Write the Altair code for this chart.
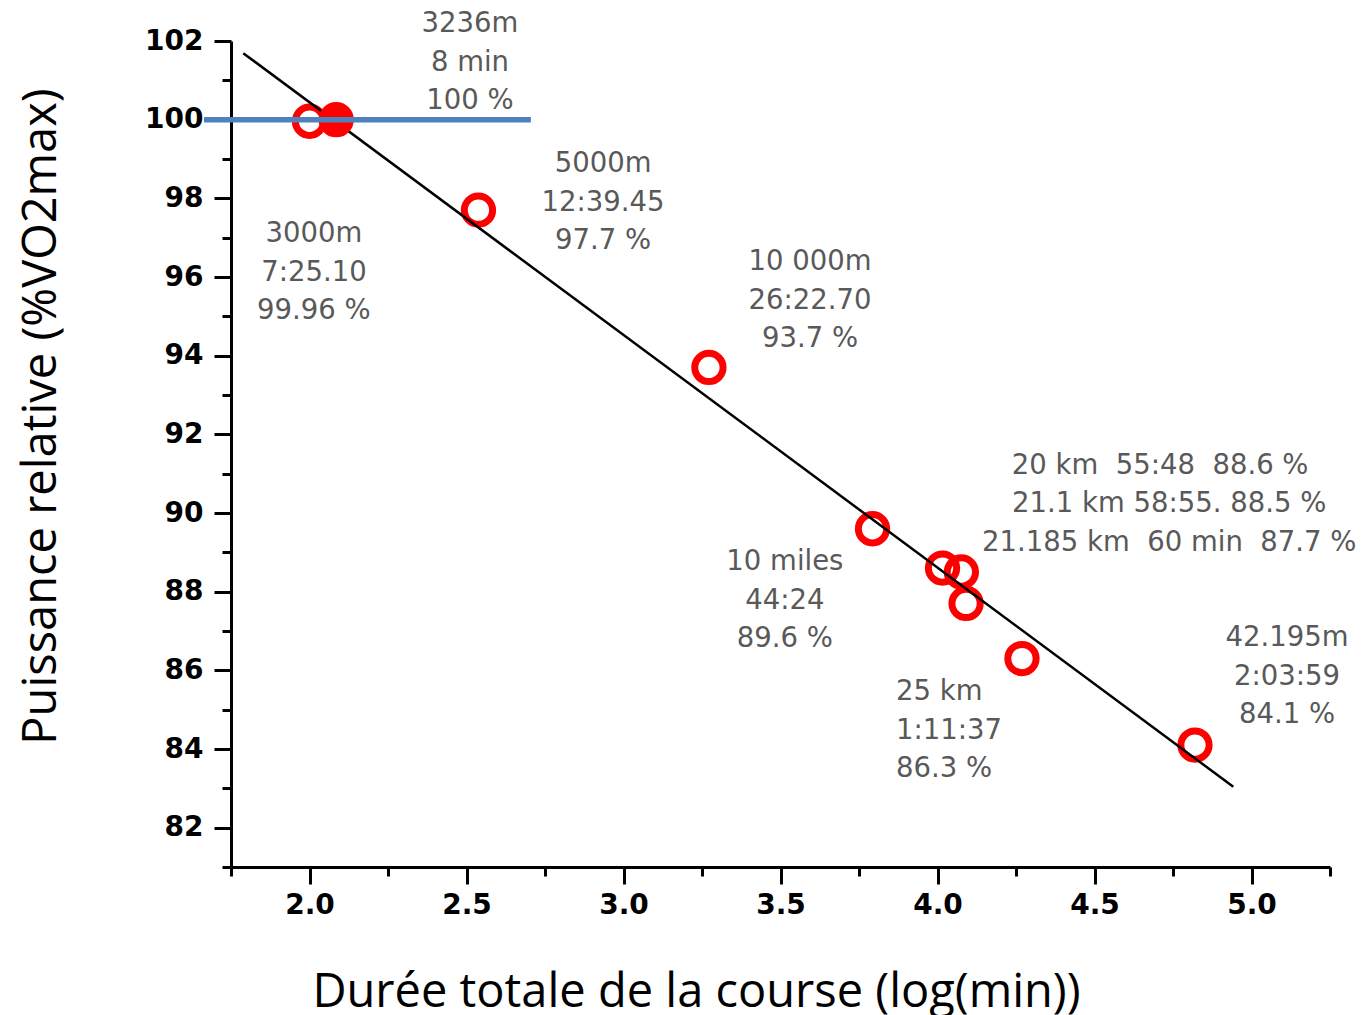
import altair as alt
import pandas as pd

# ---- data ----
race = ["3000m", "3236m", "5000m", "10 000m", "10 miles", "20 km",
        "21.1 km", "21.185 km", "25 km", "42.195m"]
log_min = [2.0, 2.085, 2.538, 3.272, 3.793, 4.016, 4.076, 4.091, 4.269, 4.820]
pct = [99.96, 100.0, 97.7, 93.7, 89.6, 88.6, 88.5, 87.7, 86.3, 84.1]
filled = [False, True, False, False, False, False, False, False, False, False]

fit_x = [1.789, 4.942]
fit_y = [101.69, 83.04]

ref_x = [1.664, 2.705]
ref_y = [100.0, 100.0]

NB = "\u00a0"
lab_text = [
    "3236m\n8 min\n100 %",
    "5000m\n12:39.45\n97.7 %",
    "3000m\n7:25.10\n99.96 %",
    "10 000m\n26:22.70\n93.7 %",
    "10 miles\n44:24\n89.6 %",
    "20 km" + NB + " 55:48" + NB + " 88.6 %",
    "21.1 km 58:55. 88.5 %\n21.185 km" + NB + " 60 min" + NB + " 87.7 %",
    "25 km\n1:11:37\n86.3 %",
    "42.195m\n2:03:59\n84.1 %",
]
# position of the first line of each label
lab_x = [2.511, 2.935, 2.014, 3.594, 3.514, 4.709, 4.738, 3.868, 5.113]
lab_y = [102.43, 98.87, 97.09, 96.38, 88.75, 91.19, 90.22, 85.44, 86.82]
lab_align = ["center", "center", "center", "center", "center", "center",
             "center", "left", "center"]

x_major = [2.0, 2.5, 3.0, 3.5, 4.0, 4.5, 5.0]
x_minor = [1.75, 2.25, 2.75, 3.25, 3.75, 4.25, 4.75, 5.25]
y_major = [82, 84, 86, 88, 90, 92, 94, 96, 98, 100, 102]
y_minor = [81, 83, 85, 87, 89, 91, 93, 95, 97, 99, 101]

x_title = "Durée totale de la course (log(min))"
y_title = "Puissance relative (%VO2max)"

# ---- tables ----
pts = pd.DataFrame({"race": race, "x": log_min, "y": pct, "filled": filled})
fit = pd.DataFrame({"x": fit_x, "y": fit_y})
ref = pd.DataFrame({"x": ref_x, "y": ref_y})
labs = pd.DataFrame({"t": lab_text, "x": lab_x, "y": lab_y, "a": lab_align})

xs = alt.Scale(domain=[1.75, 5.25], nice=False, zero=False)
ys = alt.Scale(domain=[81, 102], nice=False, zero=False)

axis_common = dict(domainColor="black", domainWidth=3, tickColor="black",
                   tickWidth=3, grid=False)

x_axis_major = alt.Axis(values=x_major, format=".1f", orient="bottom",
                        tickSize=17, labelFont="DejaVu Sans", labelFontSize=28,
                        labelFontWeight="bold", labelColor="black", labelPadding=7,
                        title=x_title, titleFont="Open Sans", titleFontSize=47,
                        titleFontWeight="normal", titleColor="black",
                        titleX=465, titleY=139, titleAlign="center",
                        titleBaseline="alphabetic", labelOverlap=False,
                        **axis_common)
y_axis_major = alt.Axis(values=y_major, orient="left", tickSize=17,
                        labelFont="DejaVu Sans", labelFontSize=28,
                        labelFontWeight="bold", labelColor="black", labelPadding=11,
                        title=y_title, titleFont="Open Sans", titleFontSize=47,
                        titleFontWeight="normal", titleColor="black",
                        titleAngle=270, titleX=-176, titleY=375,
                        titleAlign="center", titleBaseline="alphabetic",
                        labelOverlap=False, **axis_common)
x_axis_minor = alt.Axis(values=x_minor, orient="bottom", tickSize=9, labels=False,
                        domain=False, title=None, tickColor="black", tickWidth=3,
                        grid=False)
y_axis_minor = alt.Axis(values=y_minor, orient="left", tickSize=9, labels=False,
                        domain=False, title=None, tickColor="black", tickWidth=3,
                        grid=False)

rings = alt.Chart(pts).transform_filter("!datum.filled").mark_point(
    shape="circle", filled=False, size=800, strokeWidth=7, color="#ff0000",
    opacity=1
).encode(
    x=alt.X("x:Q", scale=xs, axis=x_axis_major),
    y=alt.Y("y:Q", scale=ys, axis=y_axis_major),
)

minor = alt.Chart(pts).mark_point(opacity=0).encode(
    x=alt.X("x:Q", scale=xs, axis=x_axis_minor),
    y=alt.Y("y:Q", scale=ys, axis=y_axis_minor),
)

fit_line = alt.Chart(fit).mark_line(color="black", strokeWidth=2.5).encode(
    x=alt.X("x:Q", scale=xs, axis=None),
    y=alt.Y("y:Q", scale=ys, axis=None),
)

solid = alt.Chart(pts).transform_filter("datum.filled").mark_point(
    shape="circle", filled=True, size=800, strokeWidth=7, color="#ff0000",
    stroke="#ff0000", opacity=1
).encode(
    x=alt.X("x:Q", scale=xs, axis=None),
    y=alt.Y("y:Q", scale=ys, axis=None),
)

ref_line = alt.Chart(ref).mark_line(color="#4F81BD", strokeWidth=5.5).encode(
    x=alt.X("x:Q", scale=xs, axis=None),
    y=alt.Y("y:Q", scale=ys, axis=None),
)

def text_layer(align):
    return alt.Chart(labs).transform_filter(f"datum.a == '{align}'").mark_text(
        font="DejaVu Sans", fontSize=27.5, color="#595959", align=align,
        baseline="middle", lineBreak="\n", lineHeight=38.5
    ).encode(
        x=alt.X("x:Q", scale=xs, axis=None),
        y=alt.Y("y:Q", scale=ys, axis=None),
        text="t:N",
    )

chart = alt.layer(
    rings, minor, fit_line, solid, ref_line, text_layer("center"), text_layer("left")
).resolve_axis(x="independent", y="independent").properties(
    width=1099, height=826,
    autosize=alt.AutoSizeParams(type="none"),
    padding={"left": 223, "top": 33, "right": 28, "bottom": 148},
).configure(background="white").configure_view(stroke=None)

chart.save("out.html", embed_options={"renderer": "svg", "actions": False})
